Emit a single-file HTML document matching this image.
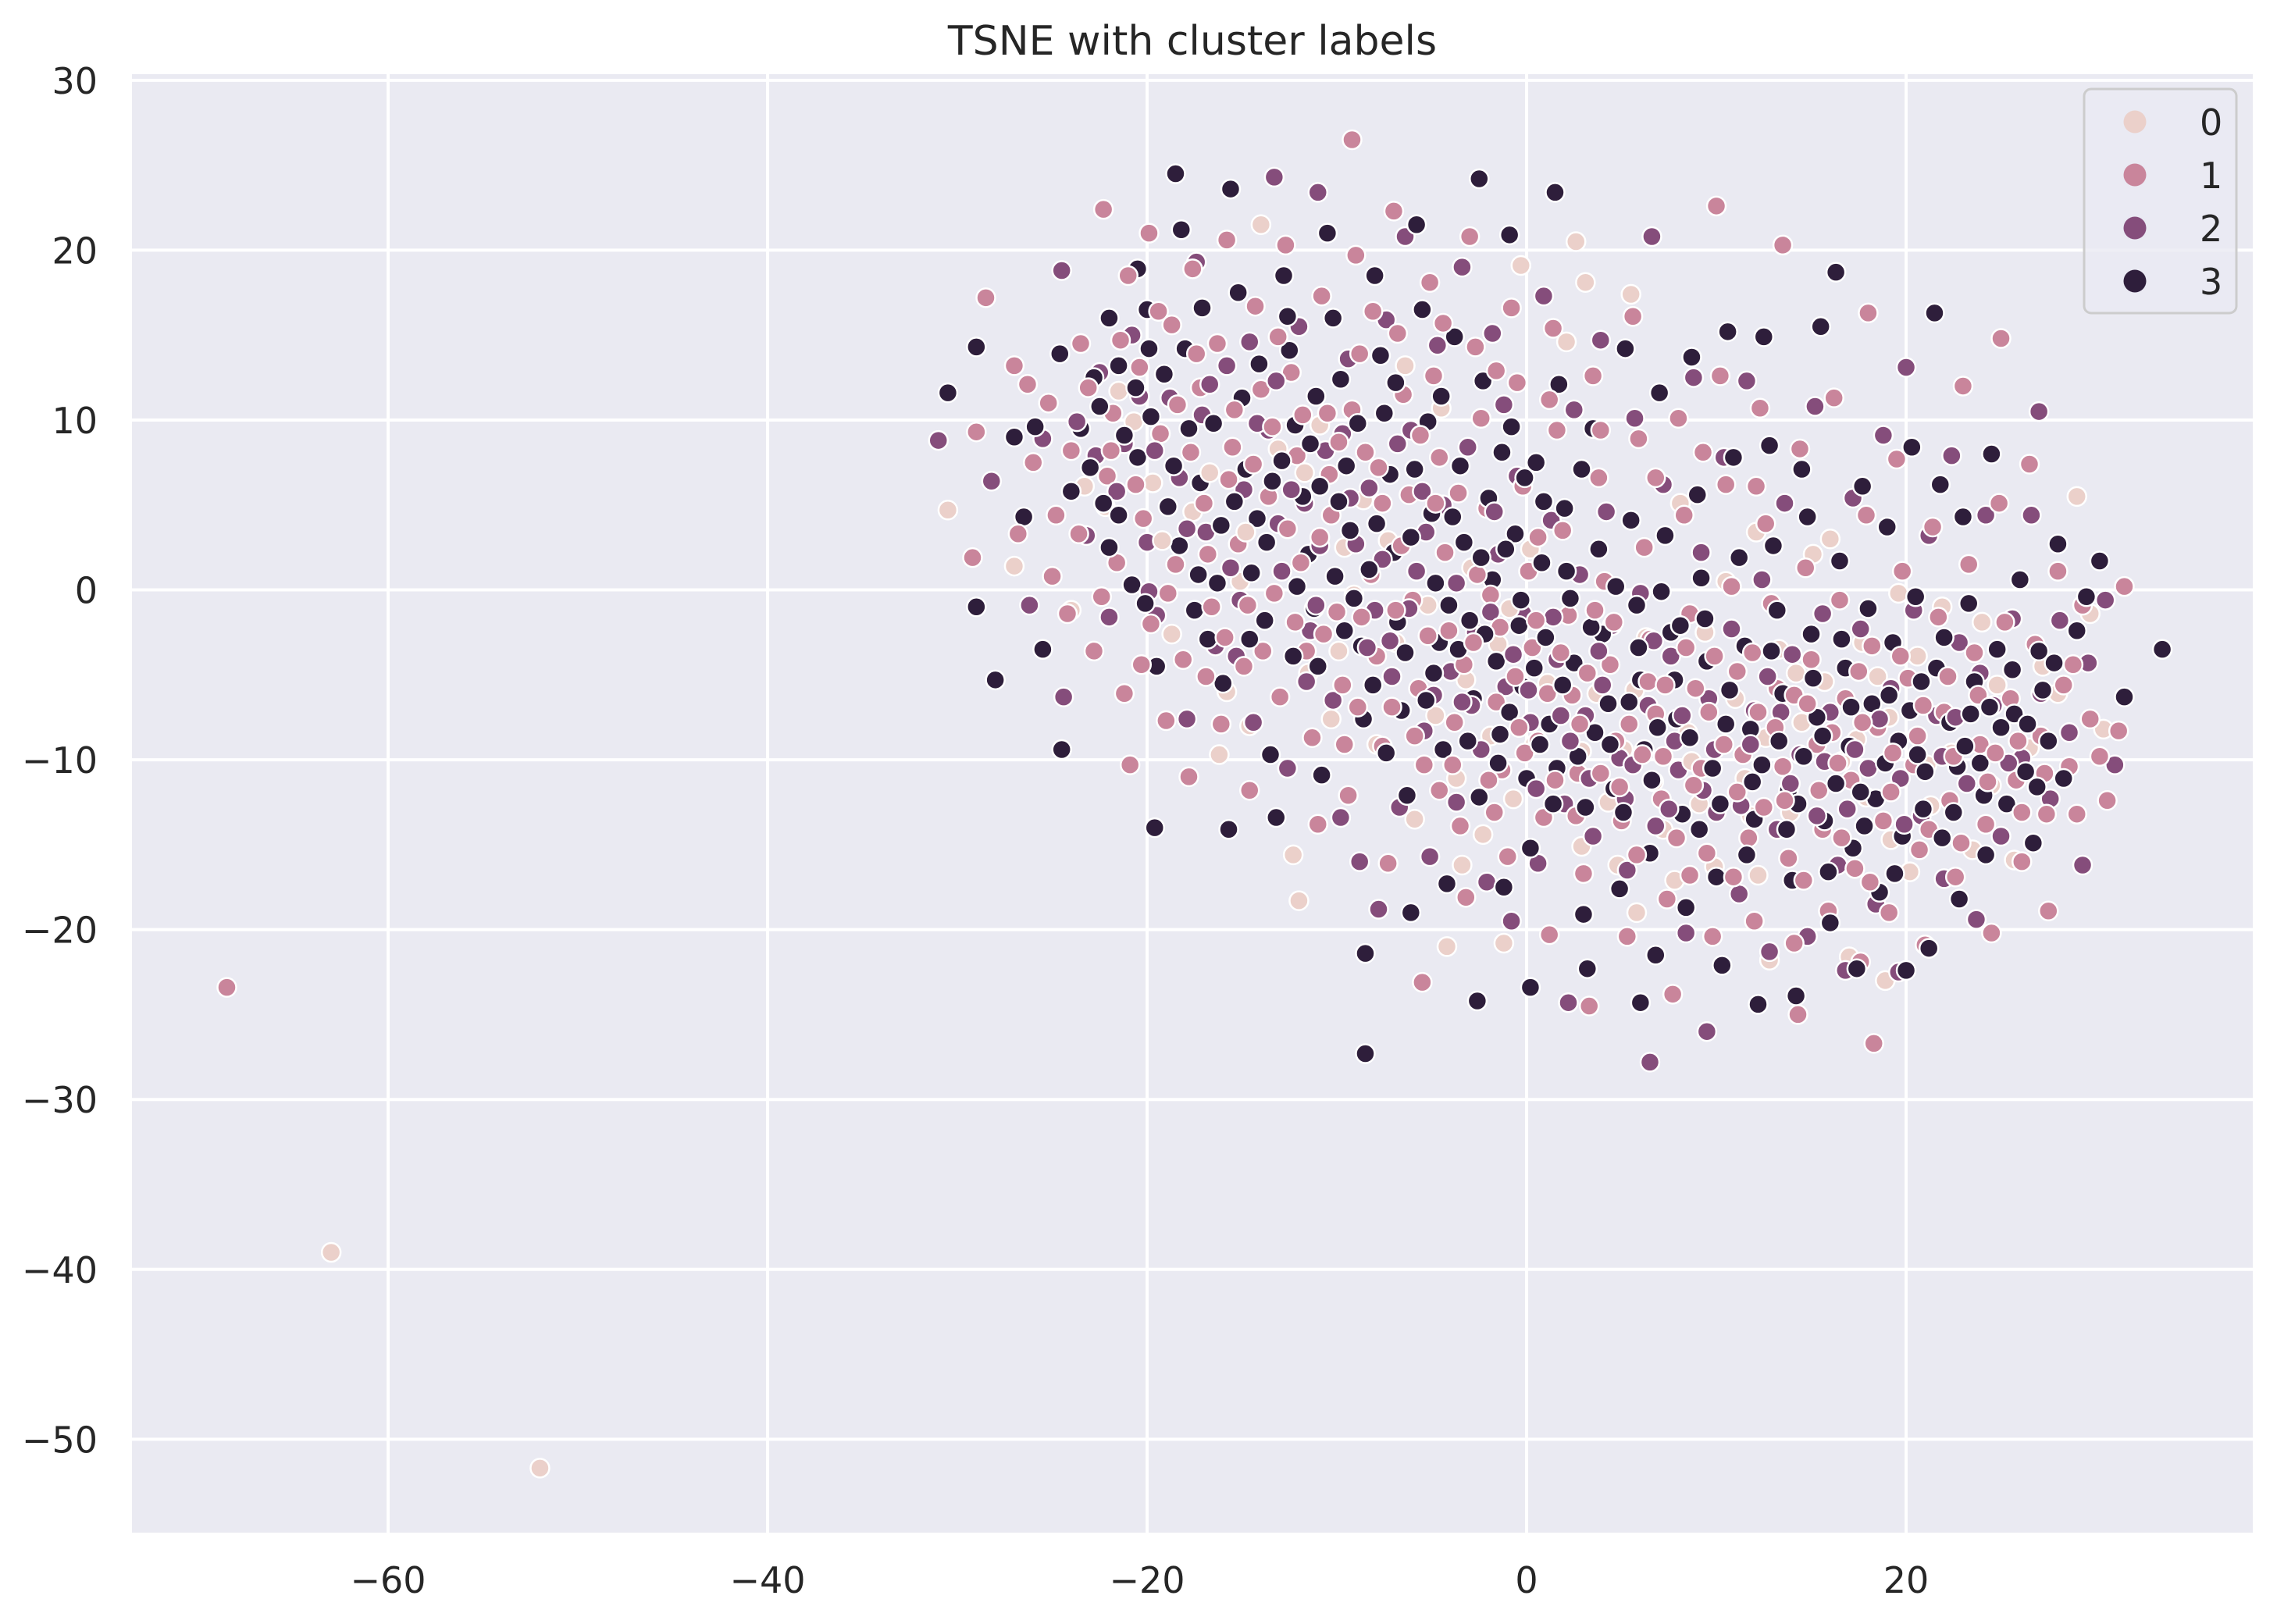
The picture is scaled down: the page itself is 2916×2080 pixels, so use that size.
<!DOCTYPE html>
<html>
<head>
<meta charset="utf-8">
<style>
html,body{margin:0;padding:0;background:#ffffff;}
svg{display:block;}
text{font-family:"DejaVu Sans","Liberation Sans",sans-serif;fill:#262626;}
</style>
</head>
<body>
<svg id="chart" width="2916" height="2080" viewBox="0 0 2916 2080" xmlns="http://www.w3.org/2000/svg">
  <rect x="169" y="95" width="2716" height="1868" fill="#eaeaf2"/>
  <g id="grid"></g>
  <g id="points"></g>
  <g id="ticks"></g>
  <text x="1527" y="70" font-size="52" text-anchor="middle">TSNE with cluster labels</text>
  <g id="legend">
    <rect x="2669" y="114" width="195" height="287" rx="9" fill="#eaeaf2" fill-opacity="0.8" stroke="#cccccc" stroke-width="3"/>
  </g>
</svg>
<script>
const clusterLabels = ["0","1","2","3"];
const clusterColors = ["#ebd0ca","#c9859b","#854d7b","#2e1e3b"];
const xTicks = [-60,-40,-20,0,20];
const yTicks = [30,20,10,0,-10,-20,-30,-40,-50];

const cluster3a = [[-29,14.3],[-30.5,11.6],[-27,9],[-26.5,4.3],[-29,-1],[-28,-5.3],[-25.5,-3.5],[-24.5,-9.4],[-24,5.8],[-23.5,9.5],[-22.8,12.5],[-22,16],[-21.5,13.2],[-20.5,18.9],[-20,16.5],[-19.8,10.2],[-20.5,7.8],[-21.5,4.4],[-22,2.5],[-20.8,0.3],[-19.5,-4.5],[-19.6,-14],[-18.5,24.5],[-18.2,21.2],[-18,14.2],[-17.8,9.5],[-17.2,6.3],[-18.3,2.6],[-17.5,-1.2],[-16.8,-2.9],[-16,-5.5],[-15.7,-14.1],[-15.6,23.6],[-15.2,17.5],[-15,11.3],[-14.8,7.1],[-14.2,4.2],[-14.5,1],[-13.8,-1.8],[-13.5,-9.7],[-13.2,-13.4],[-12.8,18.5],[-12.5,14.1],[-12.2,9.7],[-11.8,5.5],[-11.5,2.1],[-11.2,-1.1],[-11,-4.5],[-10.8,-10.9],[-10.5,21],[-10.2,16],[-9.8,12.4],[-9.5,7.3],[-9.3,3.5],[-9.1,-0.5],[-8.7,-3.3],[-8.6,-7.6],[-8.5,-21.4],[-8.5,-27.3],[-8,18.5],[-7.7,13.8],[-7.5,10.4],[-7.2,6.8],[-7,2.2],[-6.8,-1.9],[-6.6,-7.1],[-6.3,-12.1],[-6.1,-19],[-5.8,21.5],[-5.5,16.5],[-5.2,9.9],[-5,4.5],[-4.8,0.4],[-4.6,-3.1],[-4.4,-9.4],[-4.2,-17.3],[-3.8,14.9],[-3.5,7.3],[-3.3,2.8],[-3,-1.8],[-2.8,-6.4],[-2.5,-12.2],[-2.6,-24.2],[-2.5,24.2],[-2.3,12.3],[-2,5.4],[-1.8,0.6],[-1.6,-4.2],[-1.4,-8.5],[-1.2,-17.5],[-0.9,20.9],[-0.8,9.6],[-0.6,3.3],[-0.4,-2.1],[-0.2,-5.7],[0,-11.1],[0.2,-15.2],[0.2,-23.4],[0.5,7.5],[0.8,1.6],[1,-2.8],[1.2,-7.9],[1.4,-12.6],[1.5,23.4],[1.7,12.1],[2,4.8],[2.3,-0.5],[2.5,-4.3],[2.7,-9.8],[3,-19.1],[3.2,-22.3],[3.5,9.5],[3.8,2.4],[4,-2.6],[4.3,-6.7],[4.6,-11.7],[4.9,-17.6],[5.2,14.2],[5.5,4.1],[5.8,-0.9],[6,-5.3],[6.2,-9.4],[6.5,-15.5],[6,-24.3],[6.8,-21.5],[7,11.6],[7.3,3.2],[7.6,-2.5],[7.9,-7.6],[8.2,-13.2],[8.4,-18.7],[8.7,13.7],[9,5.6],[9.2,0.7],[9.5,-4.2],[9.8,-10.5],[10,-16.9],[10.3,-22.1],[10.6,15.2],[10.9,7.8],[11.2,1.9],[11.5,-3.3],[11.8,-8.2],[12,-13.5],[12.2,-24.4],[12.5,14.9],[12.8,8.5],[13,2.6],[13.2,-1.2],[13.5,-6.1],[13.8,-11.8],[14,-17.1],[14.2,-23.9],[14.5,7.1],[14.8,4.3],[15,-2.6],[15.3,-7.5],[15.5,15.5],[15.7,-13.6],[16,-19.6],[16.3,18.7],[16.5,1.7],[16.8,-4.6],[17,-9.2],[17.2,-15.2],[17.4,-22.3],[17.7,6.1],[18,-1.1],[18.2,-6.7],[18.4,-12.3],[18.6,-17.8],[19,3.7],[19.3,-3.1],[19.6,-8.9],[19.8,-14.5],[20,-22.4],[20.3,8.4],[20.5,-0.4],[20.8,-5.4],[21,-10.7],[21.2,-21.1],[21.5,16.3],[21.8,6.2],[22,-2.8],[22.3,-7.8],[22.5,-13.1],[22.8,-18.2],[23,4.3],[23.3,-0.8],[23.6,-5.4],[23.9,-10.2],[24.2,-15.6],[24.5,8],[24.8,-3.5],[25,-8.1],[25.3,-12.6],[25.7,-7.3],[26,0.6],[26.3,-10.7],[26.7,-14.9],[27,-3.6],[27.2,-5.9],[27.5,-8.9],[27.8,-4.3],[28,2.7],[28.3,-11.1],[29,-2.4],[29.5,-0.4],[30.2,1.7],[31.5,-6.3],[33.5,-3.5]];
const cluster3b = [[-23,7.2],[-21.2,9.1],[-19.1,12.7],[-18.9,4.9],[-16.5,9.8],[-16.3,0.4],[-15.4,5.2],[-14.1,13.3],[-13.7,2.8],[-12.9,7.6],[-12.3,-3.9],[-11.1,11.4],[-10.1,0.8],[-9.9,5.2],[-8.9,9.8],[-8.1,-5.6],[-7.9,3.9],[-6.4,-3.7],[-5.9,7.1],[-5.3,-6.5],[-4.1,-0.9],[-3.9,4.3],[-3.1,-8.9],[-2.2,-2.6],[-1.1,2.4],[-0.9,-7.2],[0.4,-4.6],[0.9,5.2],[1.6,-10.5],[2.1,1.1],[3.4,-2.2],[3.6,-8.4],[4.7,0.2],[5.1,-13.1],[5.9,-3.4],[6.6,-11.2],[7.1,-0.1],[7.8,-5.3],[8.6,-8.7],[9.4,-1.7],[10.2,-12.6],[10.7,-5.9],[11.6,-15.6],[12.4,-10.3],[12.9,-3.6],[13.7,-14.1],[14.6,-9.8],[15.1,-5.2],[15.9,-16.6],[16.3,-11.4],[17.1,-6.9],[17.8,-13.9],[18.9,-10.2],[19.4,-16.7],[20.2,-7.1],[20.9,-12.9],[21.6,-4.6],[22.7,-10.4],[23.4,-7.3],[24.1,-12.1],[25.6,-4.7],[26.4,-7.9],[-20.1,-0.8],[-22.5,10.8],[-17.1,16.6],[-11.4,8.6],[-6.9,12.2],[-1.3,8.1],[2.9,7.1],[-24.6,13.9],[-25.9,9.6]];
const cluster3c = [[-22.3,5.1],[-20.6,11.9],[-18.6,7.3],[-17.3,0.9],[-16.1,3.8],[-14.6,-2.9],[-13.4,6.4],[-12.1,0.2],[-10.9,6.1],[-9.6,-2.4],[-8.3,1.2],[-7.4,-9.6],[-6.1,3.1],[-4.9,-4.9],[-3.6,-3.5],[-2.4,1.9],[-1.5,-10.2],[-0.3,-0.6],[0.7,-9.1],[1.9,-5.6],[3.1,-12.8],[4.4,-9.1],[5.4,-6.6],[6.9,-8.1],[8.1,-2.1],[9.1,-14.1],[10.5,-7.9],[11.9,-11.3],[13.3,-8.9],[14.3,-12.6],[15.6,-8.6],[16.6,-2.9],[17.6,-11.9],[19.1,-6.2],[20.6,-9.7],[21.9,-14.6],[23.1,-9.2],[24.4,-6.9],[26.9,-11.6],[-19.9,14.2],[-12.6,16.1],[-4.5,11.4],[-0.1,6.6]];

const cluster1a = [[-28.5,17.2],[-29,9.3],[-29.2,1.9],[-27,13.2],[-26,7.5],[-26.8,3.3],[-25.2,11],[-25,0.8],[-24.2,-1.4],[-24,8.2],[-23.5,14.5],[-22.8,-3.6],[-22.3,22.4],[-22.1,6.7],[-21.8,10.4],[-21.2,-6.1],[-21.6,1.6],[-21,18.5],[-20.9,-10.3],[-20.4,13.1],[-20.2,4.2],[-19.8,-2],[-19.9,21],[-19.3,9.2],[-19,-7.7],[-18.7,15.6],[-18.5,1.5],[-18.1,-4.1],[-17.8,-11],[-17.6,18.9],[-17.2,11.9],[-17,5.1],[-16.6,-1],[-16.3,14.5],[-16.1,-7.9],[-15.8,20.6],[-15.5,8.4],[-15.2,2.7],[-14.9,-4.5],[-14.6,-11.8],[-14.3,16.7],[-14,11.8],[-13.6,5.5],[-13.3,-0.2],[-13,-6.3],[-12.7,20.3],[-12.4,12.8],[-12.1,7.9],[-11.9,1.6],[-11.6,-3.6],[-11.3,-8.7],[-11,-13.8],[-10.8,17.3],[-10.5,10.4],[-10.3,4.4],[-10,-1.3],[-9.7,-5.6],[-9.4,-12.1],[-9.2,26.5],[-9,19.7],[-8.8,13.9],[-8.5,8.1],[-8.2,0.9],[-7.9,-3.9],[-7.6,-9.2],[-7.3,-16.1],[-7,22.3],[-6.8,15.1],[-6.5,11.5],[-6.2,5.6],[-6,-0.6],[-5.7,-5.8],[-5.4,-10.3],[-5.5,-23.1],[-5.1,18.1],[-4.9,12.6],[-4.6,7.8],[-4.3,2.2],[-4.1,-2.4],[-3.8,-7.8],[-3.5,-13.9],[-3.2,-18.1],[-3,20.8],[-2.7,14.3],[-2.4,10.1],[-2.1,4.8],[-1.9,-0.3],[-1.6,-6.6],[-1.3,-10.6],[-1,-15.7],[-0.8,16.6],[-0.5,12.2],[-0.2,6.1],[0.1,1.1],[0.3,-3.4],[0.6,-8.9],[0.9,-13.4],[1.2,-20.3],[1.4,15.4],[1.6,9.4],[1.9,3.5],[2.2,-1.5],[2.4,-6.2],[2.7,-10.8],[3,-16.7],[3.3,-24.5],[3.5,12.6],[3.8,6.6],[4.1,0.5],[4.4,-4.4],[4.7,-8.9],[5,-13.6],[5.3,-20.4],[5.6,16.1],[5.9,8.9],[6.2,2.5],[6.5,-2.9],[6.8,-7.3],[7.1,-12.3],[7.4,-18.2],[7.7,-23.8],[8,10.1],[8.3,4.4],[8.6,-1.4],[8.9,-5.8],[9.2,-10.5],[9.5,-15.5],[9.8,-20.4],[10,22.6],[10.2,12.6],[10.5,6.2],[10.8,0.2],[11.1,-4.8],[11.4,-9.7],[11.7,-14.6],[12,-19.5],[12.3,10.7],[12.6,3.9],[12.9,-0.8],[13.2,-5.8],[13.5,-10.4],[13.8,-15.8],[14.1,-20.8],[14.3,-25],[13.5,20.3],[14.4,8.3],[14.7,1.3],[15,-4.1],[15.3,-9.1],[15.6,-14.1],[15.9,-18.9],[16.2,11.3],[16.5,-0.6],[16.8,-6.4],[17.1,-11.2],[17.3,-16.4],[17.6,-21.9],[18,16.3],[18.3,-26.7],[17.9,4.4],[18.2,-3.3],[18.5,-8.1],[18.8,-13.6],[19.1,-19],[19.5,7.7],[19.8,1.1],[20.1,-5.2],[20.4,-10.3],[20.7,-15.3],[21,-20.9],[21.4,3.7],[21.7,-1.6],[22,-7.2],[22.3,-12.4],[22.6,-16.9],[23,12],[23.3,1.5],[23.6,-3.7],[23.9,-9.1],[24.2,-13.8],[24.5,-20.2],[25,14.8],[24.9,5.1],[25.2,-1.9],[25.5,-6.4],[25.8,-11.2],[26.1,-16],[26.5,7.4],[26.8,-3.2],[27.1,-8.6],[27.4,-13.2],[27.5,-18.9],[28,1.1],[28.3,-5.6],[28.6,-10.4],[29,-13.2],[29.3,-0.9],[29.7,-7.6],[30.2,-9.8],[30.6,-12.4],[31.2,-8.3],[31.5,0.2],[-68.5,-23.4]];
const cluster1b = [[-24.8,4.4],[-23.1,11.9],[-22.4,-0.4],[-20.6,6.2],[-19.4,16.4],[-18.9,-0.2],[-17.7,8.1],[-16.8,2.1],[-15.9,-2.8],[-15.4,10.6],[-14.4,7.4],[-13.9,-3.6],[-13.1,14.9],[-12.6,3.6],[-11.8,10.3],[-10.7,-2.6],[-10.4,6.8],[-9.6,-9.1],[-9.2,10.6],[-8.7,-1.6],[-7.6,5.1],[-7.1,-6.9],[-6.6,2.6],[-5.6,9.1],[-5.2,-2.7],[-4.6,-11.8],[-3.6,5.7],[-3.3,-4.4],[-2.6,0.9],[-2,-11.2],[-1.4,-2.2],[-0.6,-5.1],[-0.1,-9.6],[0.6,3.1],[1.1,-6.1],[1.8,-3.7],[2.6,-13.3],[3.2,-4.9],[3.9,-10.8],[4.6,-1.9],[5.4,-7.9],[5.8,-15.6],[6.4,-5.4],[7.2,-9.8],[7.9,-14.6],[8.4,-3.4],[8.8,-11.5],[9.6,-7.2],[10.4,-9.1],[10.9,-16.9],[11.9,-3.7],[12.5,-12.8],[13.1,-8.1],[14.1,-6.2],[14.6,-17.1],[15.4,-11.8],[16.1,-8.4],[16.6,-14.6],[17.5,-4.8],[18.1,-17.2],[19.2,-11.9],[19.7,-3.9],[20.6,-8.6],[21.2,-14.1],[22.2,-5.1],[22.9,-14.9],[23.8,-6.2],[24.7,-9.6],[26.1,-13.1],[27.3,-10.8],[28.8,-4.4],[-26.3,12.1],[-21.4,14.7],[-4.4,15.7],[1.2,11.2],[6.8,6.6],[12.1,6.1]];
const cluster1c = [[-23.6,3.3],[-21.9,8.2],[-20.3,-4.4],[-18.4,10.9],[-16.9,-5.1],[-15.7,6.5],[-14.7,-0.9],[-13.4,9.6],[-12.2,-1.9],[-10.9,3.1],[-9.9,8.7],[-8.9,-6.9],[-7.8,7.2],[-6.9,-1.2],[-5.9,-8.6],[-4.8,5.1],[-3.9,-10.3],[-2.8,-3.1],[-1.7,-13.1],[-0.4,-8.1],[0.5,-1.8],[1.5,-11.2],[2.8,-7.9],[3.6,-1.2],[4.9,-11.6],[6.1,-9.7],[7.3,-5.6],[8.6,-16.8],[9.9,-3.9],[11.1,-11.9],[12.2,-7.2],[13.6,-12.4],[14.8,-6.7],[16.4,-10.2],[17.7,-7.8],[19.3,-9.6],[20.9,-6.8],[22.5,-9.8],[24.3,-11.3],[25.9,-8.9],[-17.4,13.9],[-8.1,16.4],[-1.6,12.9],[3.9,9.4],[9.3,8.1]];

const cluster2a = [[-31,8.8],[-28.2,6.4],[-26.2,-0.9],[-25.5,8.9],[-24.5,18.8],[-24.4,-6.3],[-23.2,3.2],[-22.5,12.8],[-22,-1.6],[-21.2,8.6],[-20.8,15],[-20,2.8],[-19.5,-1.5],[-18.8,11.3],[-18.3,6.6],[-17.9,-7.6],[-17.4,19.3],[-16.9,3.4],[-16.4,-3.3],[-15.8,13.2],[-15.3,-3.9],[-14.9,5.9],[-14.4,-7.8],[-13.3,24.3],[-13.6,9.4],[-12.9,1.1],[-12.6,-10.5],[-12,15.5],[-11.7,5.1],[-11.4,-2.4],[-11,23.4],[-10.6,8.2],[-10.2,-6.5],[-9.8,-13.4],[-9.4,13.6],[-9,2.7],[-8.8,-16],[-8.3,6],[-8,-1.2],[-7.8,-18.8],[-7.4,15.9],[-7.1,-5.1],[-6.7,-12.8],[-6.4,20.8],[-6.1,9.4],[-5.8,1.1],[-5.4,-8.3],[-5.1,-15.7],[-4.7,14.4],[-4.4,5],[-4,-4.8],[-3.7,-12.5],[-3.4,19],[-3.1,8.4],[-2.7,-2.5],[-2.4,-9.4],[-2.1,-17.2],[-1.8,15.1],[-1.5,2.1],[-1.1,-5.7],[-0.8,-19.5],[-0.5,6.7],[-0.2,-1.4],[0.2,-7.8],[0.6,-16.1],[0.9,17.3],[1.3,4.1],[1.6,-4.1],[2,-12.6],[2.2,-24.3],[2.5,10.6],[2.8,0.9],[3.1,-7.4],[3.5,-14.5],[3.9,14.7],[4.2,4.6],[4.5,-2.1],[4.9,-9.9],[5.3,-16.5],[5.7,10.1],[6,-0.2],[6.4,-6.8],[6.8,-13.9],[6.5,-27.8],[6.6,20.8],[7.2,6.2],[7.6,-3.9],[8,-10.6],[8.4,-20.2],[8.8,12.5],[9.2,2.2],[9.5,-26],[9.6,-6.4],[10,-13.1],[10.4,7.8],[10.8,-2.3],[11.2,-17.9],[11.6,12.3],[12,-7.1],[12.4,0.6],[12.8,-21.3],[13.2,-14.1],[13.6,5.1],[14,-3.8],[14.4,-9.7],[14.8,-20.4],[15.2,10.8],[15.6,-1.4],[16,-7.2],[16.4,-16.2],[16.8,-22.4],[17.2,5.4],[17.6,-2.3],[18,-10.5],[18.4,-18.5],[18.8,9.1],[19.2,-5.8],[19.6,-22.5],[20,13.1],[20.4,-1.2],[20.8,-13.3],[21.2,3.2],[21.6,-7.4],[22,-17],[22.4,7.9],[22.8,-3.1],[23.2,-11.4],[23.7,-19.4],[24.2,4.4],[24.6,-6.8],[25,-14.5],[25.6,-1.7],[26.1,-9.9],[26.6,4.4],[27,10.5],[27.1,-6.1],[27.6,-12.3],[28.1,-1.8],[28.6,-8.4],[29.3,-16.2],[29.6,-4.3],[30.5,-0.6],[31,-10.3]];
const cluster2b = [[-23.7,9.9],[-21.6,5.8],[-19.6,8.2],[-17.9,3.6],[-16.7,12.1],[-15.1,-0.6],[-14.2,9.8],[-12.4,5.9],[-11.6,-5.4],[-10.9,2.6],[-9.7,9.2],[-8.4,-3.4],[-7.6,1.8],[-6.2,-1.1],[-5.5,5.8],[-4.9,-6.2],[-3.7,0.4],[-2.9,-6.8],[-1.7,4.6],[-0.7,-3.8],[0.5,-11.7],[1.4,-1.6],[2.3,-8.9],[3.3,-11.1],[4,-5.6],[5.6,-10.3],[6.7,-3],[7.5,-12.9],[8.2,-7.4],[9.9,-9.4],[11.3,-12.7],[12.7,-5.1],[13.9,-11.4],[15.7,-10.1],[16.9,-12.9],[18.6,-7.6],[19.9,-13.8],[21.9,-9.8],[23.9,-4.9],[25.4,-10.2],[-20.4,11.4],[-13.2,12.3],[-1.2,10.9]];
const cluster2c = [[-22.7,7.9],[-19.9,-0.1],[-17.1,10.3],[-15.6,1.3],[-13.1,3.9],[-11.1,-0.9],[-9.3,5.4],[-7.2,-3],[-5.3,3.4],[-3.4,-6.6],[-1.9,-1.3],[0.1,-5.9],[1.8,-7.4],[3.8,-3.6],[5.2,-12.3],[7.8,-8.9],[9.3,-11.8],[11.8,-9.1],[13.4,-7.2],[15.3,-13.3],[17.3,-9.4],[19.7,-11.1],[22.6,-7.5],[-14.6,14.6],[-6.8,8.6]];

const cluster0a = [[-30.5,4.7],[-27,1.4],[-24,-1.2],[-23.3,6.1],[-22.2,4.9],[-21.5,11.7],[-20.7,9.9],[-19.7,6.3],[-18.7,-2.6],[-17.6,4.6],[-16.2,-9.7],[-15.8,-6],[-15.1,0.5],[-14.6,-8],[-14,21.5],[-13.1,8.3],[-12.3,-15.6],[-12,-18.3],[-11.5,-4.9],[-10.9,9.7],[-10.3,-7.6],[-9.6,2.5],[-9.1,-0.3],[-8.6,5.3],[-7.9,-9.1],[-7.3,2.9],[-6.9,-3.1],[-6.4,13.2],[-5.9,-13.5],[-5.2,-0.9],[-4.5,10.7],[-4.2,-21],[-3.7,-11.1],[-3.2,-5.3],[-2.9,1.3],[-2.3,-14.4],[-1.9,-8.6],[-1.2,-20.8],[-1.5,-3.2],[-0.7,-12.3],[-0.3,19.1],[0.2,2.4],[0.4,-9.1],[1.1,-5.5],[2.1,14.6],[2.6,20.5],[2.9,-15.1],[3.1,18.1],[3.7,-6.1],[4.3,-12.5],[4.8,-16.2],[5.1,-9.4],[5.5,17.4],[5.8,-19],[6.3,-2.8],[6.7,-11.3],[7.2,-14.1],[7.8,-17.1],[8.1,5.1],[8.5,-8.4],[9.1,-12.6],[9.4,-2.5],[9.9,-16.3],[10.5,0.5],[11,-6.4],[11.5,-11.1],[12.1,3.4],[12.6,-8.7],[12.8,-21.8],[13.3,-3.5],[13.9,-13.1],[14.5,-7.8],[15.1,2.1],[15.7,-5.4],[16,3],[16.6,-10.1],[17,-21.6],[17.7,-3.1],[17.9,-12.2],[18.5,-5.1],[18.9,-23],[19.1,-7.5],[19.6,-0.2],[20.2,-16.6],[20.6,-3.9],[21.3,-12.7],[21.9,-1],[22.4,-9.6],[23.5,-15.3],[24,-1.9],[24.5,-11.5],[25.7,-15.9],[26.5,-9.3],[27.2,-4.5],[28,-6.1],[29,5.5],[29.7,-1.4],[30.4,-8.2],[-63,-39],[-52,-51.7]];
const cluster0b = [[-19.2,2.9],[-14.8,3.4],[-9.9,-3.6],[-4.8,-7.4],[-0.9,-1.1],[2.9,-9.5],[5.7,-5.9],[8.7,-10.1],[11.8,-13.3],[14.2,-4.9],[17.4,-8.8],[21.1,-10.3],[24.8,-5.6],[19.2,-14.7],[12.2,-16.8],[-3.4,-16.2],[-11.7,6.9],[-16.7,6.9]];

const clusters = [
  cluster0a.concat(cluster0b),
  cluster1a.concat(cluster1b, cluster1c),
  cluster2a.concat(cluster2b, cluster2c),
  cluster3a.concat(cluster3b, cluster3c)
];

// axes
const X0 = 169, X1 = 2885, Y0 = 95, Y1 = 1963;
const xMin = -73.5, xMax = 38.27, yMin = -55.5, yMax = 30.36;
function sx(v){ return X0 + (v - xMin) / (xMax - xMin) * (X1 - X0); }
function sy(v){ return Y1 - (v - yMin) / (yMax - yMin) * (Y1 - Y0); }

const NS = "http://www.w3.org/2000/svg";
const grid = document.getElementById('grid');
const ticks = document.getElementById('ticks');
const pts = document.getElementById('points');
const legend = document.getElementById('legend');

xTicks.forEach(function(t){
  const l = document.createElementNS(NS,'line');
  
  
  l.setAttribute('x1', sx(t)); l.setAttribute('x2', sx(t));
  l.setAttribute('y1', Y0); l.setAttribute('y2', Y1);
  l.setAttribute('stroke', '#ffffff'); l.setAttribute('stroke-width', '4');
  grid.appendChild(l);
  const tx = document.createElementNS(NS,'text');
  
  
  tx.setAttribute('x', sx(t)); tx.setAttribute('y', 2040);
  tx.setAttribute('font-size', '46'); tx.setAttribute('text-anchor', 'middle');
  tx.textContent = (t < 0 ? '\u2212' + Math.abs(t) : String(t));
  ticks.appendChild(tx);
});
yTicks.forEach(function(t){
  const l = document.createElementNS(NS,'line');
  
  
  l.setAttribute('x1', X0); l.setAttribute('x2', X1);
  l.setAttribute('y1', sy(t)); l.setAttribute('y2', sy(t));
  l.setAttribute('stroke', '#ffffff'); l.setAttribute('stroke-width', '4');
  grid.appendChild(l);
  const tx = document.createElementNS(NS,'text');
  
  
  tx.setAttribute('x', 125); tx.setAttribute('y', sy(t) + 17);
  tx.setAttribute('font-size', '46'); tx.setAttribute('text-anchor', 'end');
  tx.textContent = (t < 0 ? '\u2212' + Math.abs(t) : String(t));
  ticks.appendChild(tx);
});

// interleave draw order so colours mix like the original
const maxLen = Math.max.apply(null, clusters.map(function(c){ return c.length; }));
for (let i = 0; i < maxLen; i++) {
  const order = [(i)%4, (i+1)%4, (i+3)%4, (i+2)%4];
  order.forEach(function(k){
    const c = clusters[k];
    if (i >= c.length) return;
    const p = c[i];
    const dot = document.createElementNS(NS,'circle');
    
    
    dot.setAttribute('cx', sx(p[0])); dot.setAttribute('cy', sy(p[1]));
    dot.setAttribute('r', '12');
    dot.setAttribute('fill', clusterColors[k]);
    dot.setAttribute('stroke', '#ffffff'); dot.setAttribute('stroke-width', '2.5');
    pts.appendChild(dot);
  });
}

clusterLabels.forEach(function(lab, k){
  const y = 156 + k * 68;
  const m = document.createElementNS(NS,'circle');
  
  
  m.setAttribute('cx', 2734); m.setAttribute('cy', y); m.setAttribute('r', 14.5);
  m.setAttribute('fill', clusterColors[k]);
  legend.appendChild(m);
  const t = document.createElementNS(NS,'text');
  
  
  t.setAttribute('x', 2817); t.setAttribute('y', y + 17);
  t.setAttribute('font-size', '46');
  t.textContent = lab;
  legend.appendChild(t);
});
</script>
</body>
</html>
